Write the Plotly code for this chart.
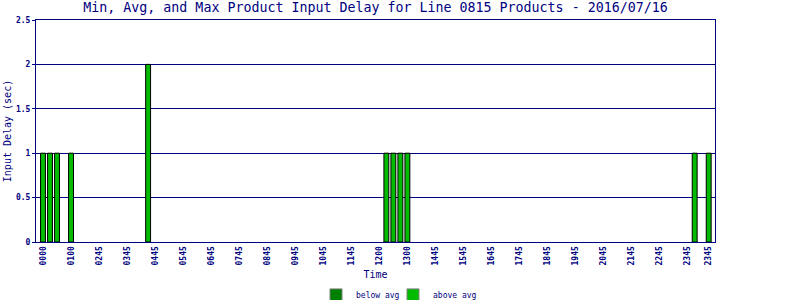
import plotly.graph_objects as go

# 15-minute slot indices (0 = 0000) and tick labels as shown on the chart
tick_idx = [0, 4, 8, 12, 16, 20, 24, 28, 32, 36, 40, 44, 48, 52, 56, 60, 64, 68, 72, 76, 80, 84, 88, 92, 95]
tick_text = ["0000", "0100", "0245", "0345", "0445", "0545", "0645", "0745", "0845", "0945",
             "1045", "1145", "1200", "1300", "1445", "1545", "1645", "1745", "1845", "1945",
             "2045", "2145", "2245", "2345", "2345"]

above_idx = [0, 1, 2, 4, 15, 49, 50, 51, 52, 93, 95]
above_val = [1, 1, 1, 1, 2, 1, 1, 1, 1, 1, 1]
below_idx = []
below_val = []

NAVY = "#000080"
FONT = "DejaVu Sans Mono"

fig = go.Figure()
fig.add_trace(go.Bar(x=below_idx, y=below_val, width=0.7, name="below avg",
                     marker=dict(color="#008000", line=dict(color="black", width=1)),
                     showlegend=False))
fig.add_trace(go.Bar(x=above_idx, y=above_val, width=0.7, name="above avg",
                     marker=dict(color="#00BB00", line=dict(color="black", width=1)),
                     showlegend=False))
# legend entries
fig.add_trace(go.Bar(x=[None], y=[None], name="below avg", legend="legend",
                     marker=dict(color="#008000", line=dict(color="#808080", width=1))))
fig.add_trace(go.Bar(x=[None], y=[None], name="above avg", legend="legend2",
                     marker=dict(color="#00BB00", line=dict(color="#808080", width=1))))

leg_common = dict(orientation="h", xanchor="left", xref="container",
                  y=0.017, yanchor="middle", yref="container",
                  font=dict(family=FONT, size=8, color=NAVY),
                  itemwidth=30, bgcolor="rgba(0,0,0,0)")

fig.update_layout(
    width=800, height=300,
    margin=dict(l=36, r=85, t=20, b=58, autoexpand=False),
    paper_bgcolor="white", plot_bgcolor="white",
    barmode="overlay",
    title=dict(text="Min, Avg, and Max Product Input Delay for Line 0815 Products - 2016/07/16",
               font=dict(family=FONT, size=13.3, color=NAVY),
               x=0.5, xref="paper", xanchor="center", y=0.99, yref="container", yanchor="top"),
    font=dict(family=FONT, color=NAVY),
    legend=dict(x=316 / 800, **leg_common),
    legend2=dict(x=393 / 800, **leg_common),
    showlegend=True,
)
fig.update_xaxes(
    range=[-1, 95.9], tickmode="array", tickvals=tick_idx, ticktext=tick_text,
    tickangle=-90, tickfont=dict(family=FONT, size=8, color=NAVY, weight="bold"),
    showgrid=False, zeroline=False, showline=True, linecolor=NAVY, linewidth=1, mirror=True,
    ticks="", ticklen=0, automargin=True,
    title=dict(text="Time", font=dict(family=FONT, size=10, color=NAVY), standoff=9),
)
fig.update_yaxes(
    range=[0, 2.5], tickmode="array", tickvals=[0, 0.5, 1, 1.5, 2, 2.5],
    ticktext=["0", "0.5", "1", "1.5", "2", "2.5"],
    tickfont=dict(family=FONT, size=8, color=NAVY, weight="bold"),
    showgrid=True, gridcolor=NAVY, gridwidth=1, zeroline=False,
    showline=True, linecolor=NAVY, linewidth=1, mirror=True,
    ticks="outside", ticklen=3, tickcolor=NAVY, automargin=True,
    title=dict(text="Input Delay (sec)", font=dict(family=FONT, size=10, color=NAVY), standoff=2),
)
fig.write_html("out.html")
